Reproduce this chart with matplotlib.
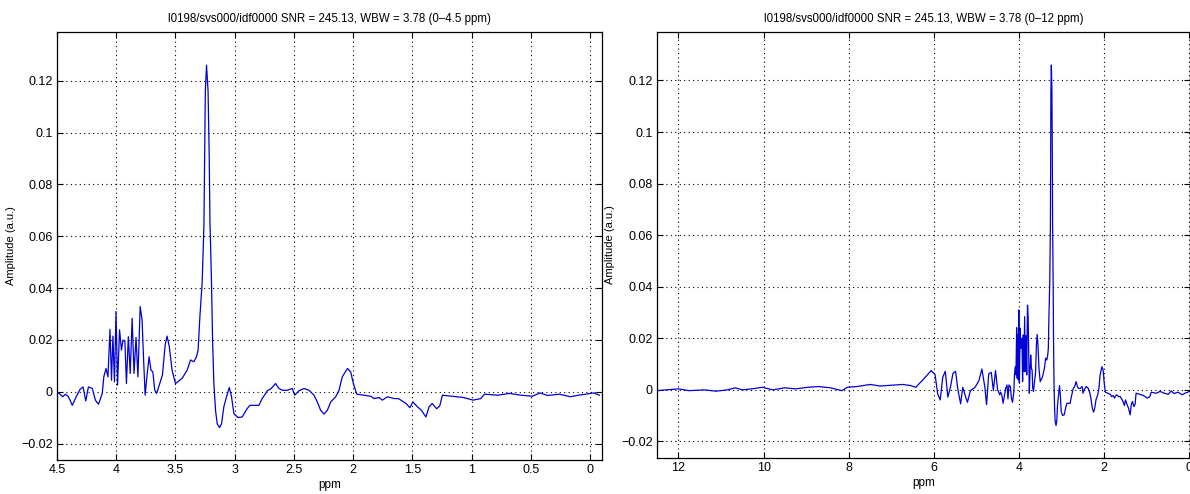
import numpy as np
import matplotlib
matplotlib.use('Agg')
import matplotlib.pyplot as plt
from matplotlib.ticker import FuncFormatter

plt.rcParams['font.family'] = ['Liberation Sans', 'DejaVu Sans']

# spectrum (ppm, amplitude), high ppm first
ppm = [12.51, 12.29, 12.0, 11.75, 11.39, 11.12, 10.85, 10.67, 10.49, 10.23,
       10.03, 9.78, 9.51, 9.24, 8.97, 8.70, 8.43, 8.16, 8.03, 7.81,
       7.49, 7.27, 7.0, 6.73, 6.55, 6.42, 6.35, 6.24, 6.06, 5.97,
       5.91, 5.85, 5.79, 5.73, 5.67, 5.61, 5.55, 5.49, 5.43, 5.37,
       5.32, 5.25, 5.21, 5.14, 5.03, 4.94, 4.87, 4.80, 4.76, 4.71,
       4.65, 4.60, 4.55,
       4.5, 4.474, 4.451, 4.429, 4.403, 4.371, 4.338, 4.306, 4.28, 4.257,
       4.235, 4.202, 4.176, 4.15, 4.118, 4.105, 4.086, 4.07, 4.053, 4.04,
       4.028, 4.015, 4.002, 3.989, 3.972, 3.956, 3.943, 3.927, 3.914, 3.898,
       3.882, 3.866, 3.85, 3.833, 3.817, 3.798, 3.782, 3.769, 3.756, 3.74,
       3.723, 3.707, 3.691, 3.675, 3.659, 3.633, 3.61, 3.587, 3.571, 3.552,
       3.529, 3.5, 3.444, 3.401, 3.373, 3.345, 3.323, 3.309, 3.294, 3.275,
       3.26, 3.248, 3.238, 3.225, 3.215, 3.209, 3.204, 3.196, 3.187, 3.176,
       3.162, 3.148, 3.128, 3.111, 3.092, 3.069, 3.046, 3.027, 3.007, 2.973,
       2.937, 2.894, 2.872, 2.838, 2.796, 2.768, 2.725, 2.692, 2.655, 2.627,
       2.599, 2.556, 2.514, 2.494, 2.458, 2.415, 2.373, 2.331, 2.303, 2.275,
       2.246, 2.218, 2.19, 2.148, 2.12, 2.092, 2.049, 2.021, 1.999, 1.970,
       1.908, 1.852, 1.824, 1.782, 1.754, 1.711, 1.655, 1.619, 1.554, 1.522,
       1.496, 1.457, 1.425, 1.386, 1.36, 1.334, 1.296, 1.27, 1.247, 1.166,
       1.069, 0.988, 0.924, 0.892, 0.779, 0.682, 0.585, 0.488, 0.423, 0.359,
       0.262, 0.165, 0.1, 0.035, -0.029, -0.078]
amp = [-0.0003, 0.0, 0.0004, -0.0003, 0.0, -0.0005, 0.0, 0.0008, 0.0, 0.0005,
       0.001, 0.0, 0.0008, 0.0004, 0.001, 0.0013, 0.0008, -0.0003, 0.001, 0.0013,
       0.0021, 0.0015, 0.0018, 0.0021, 0.0017, 0.001, 0.0023, 0.0042, 0.0075, 0.0059,
       -0.0015, -0.0039, 0.0049, 0.0072, -0.0028, 0.001, 0.0064, 0.0072, -0.0003, -0.0054,
       0.001, -0.0028, -0.0048, -0.0003, 0.001, 0.0036, 0.0081, 0.001, -0.0057, 0.0062,
       0.0068, -0.0003, 0.0075,
       0.0, -0.0009, -0.0019, -0.0009, -0.0019, -0.0052, -0.0019, 0.0009, 0.0019, -0.0035,
       0.0019, 0.0013, -0.0032, -0.0048, -0.0006, 0.0058, 0.009, 0.0058, 0.0241, 0.0045,
       0.0215, 0.0039, 0.031, 0.0026, 0.0239, 0.0161, 0.02, 0.0194, 0.0032, 0.0213,
       0.0071, 0.0284, 0.0071, 0.021, 0.0058, 0.0329, 0.0277, 0.0123, -0.0013, 0.0065,
       0.0135, 0.0084, 0.0077, 0.0006, -0.0006, 0.0032, 0.0065, 0.0181, 0.0215, 0.0174,
       0.0084, 0.0032, 0.0052, 0.0084, 0.0123, 0.0116, 0.0135, 0.0161, 0.029, 0.042,
       0.064, 0.116, 0.126, 0.116, 0.09, 0.065, 0.057, 0.042, 0.02, 0.0032,
       -0.0071, -0.0123, -0.0138, -0.0123, -0.0058, -0.0019, 0.0017, -0.0019, -0.0084, -0.0099,
       -0.0097, -0.0064, -0.0052, -0.0052, -0.0052, -0.0026, 0.0004, 0.0013, 0.0032, 0.0013,
       0.0006, 0.0006, 0.0013, -0.0013, 0.0004, 0.0013, 0.0006, -0.0013, -0.0039, -0.0071,
       -0.0086, -0.0071, -0.0039, -0.0019, 0.0006, 0.0058, 0.009, 0.0077, 0.0032, -0.0009,
       -0.0013, -0.0017, -0.0026, -0.0022, -0.0032, -0.0019, -0.0026, -0.0026, -0.0045, -0.0061,
       -0.0039, -0.0058, -0.0071, -0.0097, -0.0058, -0.0045, -0.0065, -0.0055, -0.0013, -0.0017,
       -0.0022, -0.0032, -0.0026, -0.0009, -0.0013, -0.0006, -0.0013, -0.0017, -0.0004, -0.0014,
       -0.0009, -0.0019, -0.0013, -0.0009, -0.0004, -0.0013]

title_base = 'l0198/svs000/idf0000 SNR = 245.13, WBW = 3.78'
panels = [
    # (axes rect, xlim, xticks, range text)
    ([0.0479, 0.0688, 0.458, 0.8664], (4.5, -0.1), [4.5, 4, 3.5, 3, 2.5, 2, 1.5, 1, 0.5, 0], '0\u20134.5 ppm'),
    ([0.5519, 0.0735, 0.4481, 0.8617], (12.51, -0.02), [12, 10, 8, 6, 4, 2, 0], '0\u201312 ppm'),
]
yticks = [-0.02, 0, 0.02, 0.04, 0.06, 0.08, 0.1, 0.12]

def matlab_fmt(v, pos):
    s = '%g' % v
    return s.replace('-', '\u2212')

fig = plt.figure(figsize=(11.9, 4.94), dpi=100)
for rect, xl, xt, rng in panels:
    ax = fig.add_axes(rect)
    ax.plot(ppm, amp, color='#0000d8', linewidth=0.9)
    ax.set_xlim(xl)
    ax.set_ylim(-0.0263, 0.1388)
    ax.set_xticks(xt)
    ax.set_yticks(yticks)
    ax.xaxis.set_major_formatter(FuncFormatter(matlab_fmt))
    ax.yaxis.set_major_formatter(FuncFormatter(matlab_fmt))
    ax.grid(True, color='black', linestyle=(0, (1, 3)), linewidth=0.8)
    ax.tick_params(direction='in', top=True, right=True, labelsize=9, length=4, width=0.8, pad=3)
    for s in ax.spines.values():
        s.set_linewidth(0.9)
    ax.set_xlabel('ppm', fontsize=8.5, labelpad=2)
    ax.set_ylabel('Amplitude (a.u.)', fontsize=8, labelpad=4)
    ax.set_title(title_base + ' (' + rng + ')', fontsize=8.3, pad=7)

fig.savefig('out.png', dpi=100)
